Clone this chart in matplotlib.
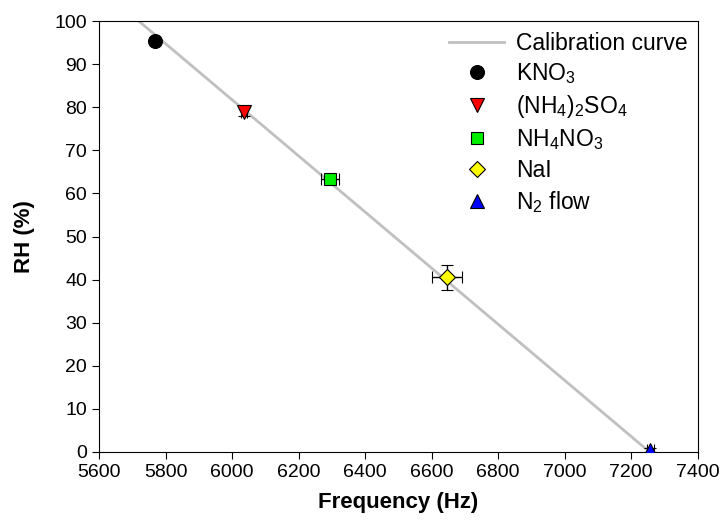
import numpy as np
import matplotlib.pyplot as plt

plt.rcParams['font.family'] = ['Liberation Sans', 'DejaVu Sans']
plt.rcParams['mathtext.default'] = 'regular'

# calibration curve end points
cal_x = [5720, 7255]
cal_y = [100, 0]

# salt standards
names = ['KNO$_3$', '(NH$_4$)$_2$SO$_4$', 'NH$_4$NO$_3$', 'NaI', 'N$_2$ flow']
freq = [5768, 6036, 6294, 6646, 7258]
freq_err = [0, 10, 26, 45, 10]
rh = [95.3, 79.0, 63.3, 40.5, 0.4]
rh_err = [0, 1.0, 1.0, 2.8, 0.5]
markers = ['o', 'v', 's', 'D', '^']
colors = ['black', 'red', '#00ee00', 'yellow', 'blue']
msizes = [10, 10, 9, 8, 10]

fig = plt.figure(figsize=(7.23, 5.31), dpi=100)
ax = fig.add_axes([0.137, 0.149, 0.828, 0.811])

ax.plot(cal_x, cal_y, color='#c0c0c0', lw=2, label='Calibration curve', zorder=1)

handles = []
for i in range(len(names)):
    eb = ax.errorbar(freq[i], rh[i], xerr=freq_err[i], yerr=rh_err[i], fmt=markers[i],
                     color='black', mfc=colors[i], mec='black', mew=0.8, ms=msizes[i],
                     ecolor='black', elinewidth=1, capsize=4, zorder=3)
    handles.append(eb[0])

line = ax.get_lines()[0]
ax.legend([line] + handles, ['Calibration curve'] + names, loc='upper right',
          frameon=False, fontsize=16.5, labelspacing=0.3, handlelength=2.4,
          borderaxespad=0.2, borderpad=0.25, handletextpad=0.5)

ax.set_xlim(5600, 7400)
ax.set_ylim(0, 100)
ax.set_xticks(np.arange(5600, 7401, 200))
ax.set_yticks(np.arange(0, 101, 10))
ax.tick_params(direction='out', length=5, labelsize=14)
ax.set_xlabel('Frequency (Hz)', fontsize=16, fontweight='bold', labelpad=8)
ax.set_ylabel('RH (%)', fontsize=16, fontweight='bold', labelpad=14)

fig.savefig('out.png', dpi=100)
